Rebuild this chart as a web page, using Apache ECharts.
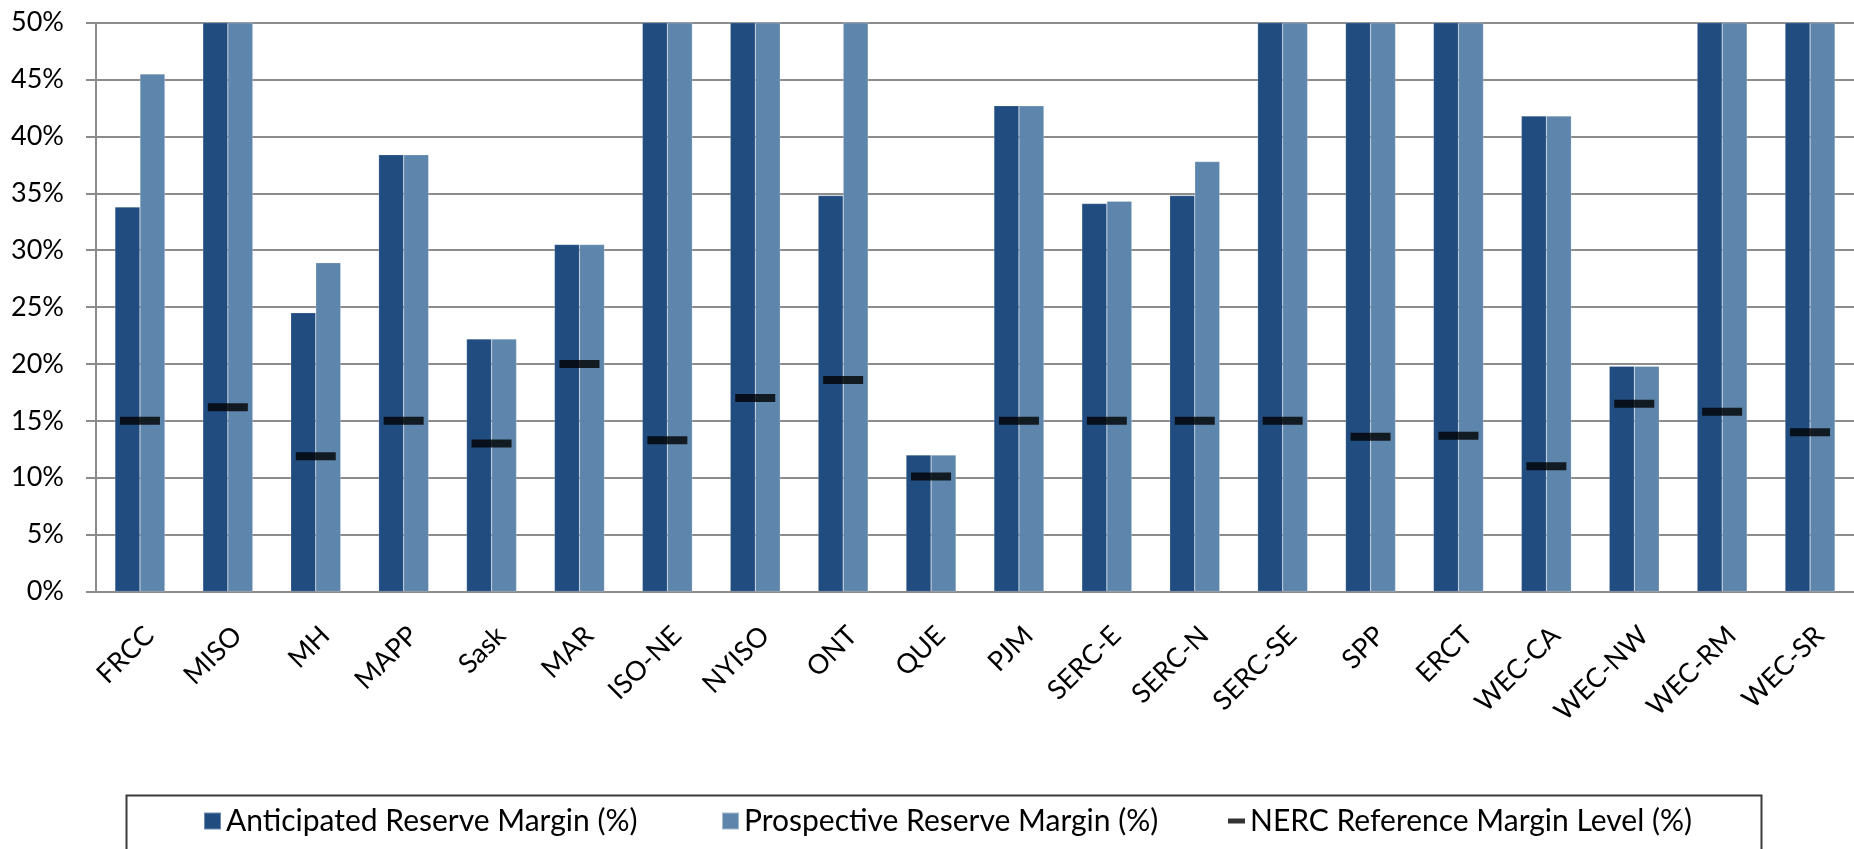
<!DOCTYPE html>
<html>
<head>
<meta charset="utf-8">
<script src="https://cdn.jsdelivr.net/npm/echarts@6/dist/echarts.min.js"></script>
<style>
  html, body { margin: 0; padding: 0; background: #fff; }
  #chart { width: 1854px; height: 849px; }
</style>
</head>
<body>
<div id="chart"></div>
<script>
const categories = ['FRCC','MISO','MH','MAPP','Sask','MAR','ISO-NE','NYISO','ONT','QUE','PJM','SERC-E','SERC-N','SERC-SE','SPP','ERCT','WEC-CA','WEC-NW','WEC-RM','WEC-SR'];
const anticipated = [33.8, 50, 24.5, 38.4, 22.2, 30.5, 50, 50, 34.8, 12.0, 42.7, 34.1, 34.8, 50, 50, 50, 41.8, 19.8, 50, 50];
const prospective = [45.5, 50, 28.9, 38.4, 22.2, 30.5, 50, 50, 50, 12.0, 42.7, 34.3, 37.8, 50, 50, 50, 41.8, 19.8, 50, 50];
const nercReference = [15.0, 16.2, 11.9, 15.0, 13.0, 20.0, 13.3, 17.0, 18.6, 10.1, 15.0, 15.0, 15.0, 15.0, 13.6, 13.7, 11.0, 16.5, 15.8, 14.0];
const seriesNames = ['Anticipated Reserve Margin (%)', 'Prospective Reserve Margin (%)', 'NERC Reference Margin Level (%)'];
const yTicks = { min: 0, max: 50, interval: 5 };

const FONT = 'Lato, "Open Sans", sans-serif';
const chart = echarts.init(document.getElementById('chart'), null, { renderer: 'canvas' });

const legendText = { fontFamily: FONT, fontSize: 30, color: '#000' };

chart.setOption({
  animation: false,
  backgroundColor: '#fff',
  grid: { left: 96, top: 22.7, width: 1763, height: 568.8, containLabel: false },
  legend: [
    { data: [seriesNames[0]], left: 203, top: 806, icon: 'rect', itemWidth: 17, itemHeight: 17, itemGap: 8, textStyle: legendText, padding: 0 },
    { data: [seriesNames[1]], left: 721, top: 806, icon: 'rect', itemWidth: 17, itemHeight: 17, textStyle: legendText, padding: 0 },
    { data: [seriesNames[2]], left: 1228, top: 806, icon: 'rect', itemWidth: 17, itemHeight: 5, textStyle: legendText, padding: 0 }
  ],
  graphic: [{
    type: 'rect', left: 124, top: 793, z: 100,
    shape: { width: 1635, height: 80 },
    style: { fill: 'none', stroke: '#3a3a3a', lineWidth: 2 }
  }],
  xAxis: {
    type: 'category',
    data: categories,
    axisLine: { show: true, lineStyle: { color: '#8c8c8c', width: 2 } },
    axisTick: { show: false },
    axisLabel: { interval: 0, rotate: 45, margin: 30, verticalAlign: 'top', fontFamily: FONT, fontSize: 27, color: '#000' }
  },
  yAxis: {
    type: 'value',
    min: yTicks.min, max: yTicks.max, interval: yTicks.interval,
    axisLine: { show: true, lineStyle: { color: '#8c8c8c', width: 2 } },
    axisTick: { show: true, length: 10, lineStyle: { color: '#8c8c8c', width: 2 } },
    splitLine: { show: true, lineStyle: { color: '#8c8c8c', width: 2 } },
    axisLabel: { margin: 32, fontFamily: FONT, fontSize: 27, color: '#000', formatter: '{value}%' }
  },
  series: [
    { name: seriesNames[0], type: 'bar', data: anticipated, barWidth: 25, barGap: '0%',
      itemStyle: { color: '#214C80', borderColor: 'rgba(255,255,255,0.35)', borderWidth: 0.5 } },
    { name: seriesNames[1], type: 'bar', data: prospective, barWidth: 25,
      itemStyle: { color: '#5E85AB', borderColor: 'rgba(255,255,255,0.45)', borderWidth: 0.5 } },
    { name: seriesNames[2], type: 'scatter', data: nercReference, symbol: 'rect', symbolSize: [40, 8], z: 5,
      itemStyle: { color: '#000' } }
  ]
});
</script>
</body>
</html>
